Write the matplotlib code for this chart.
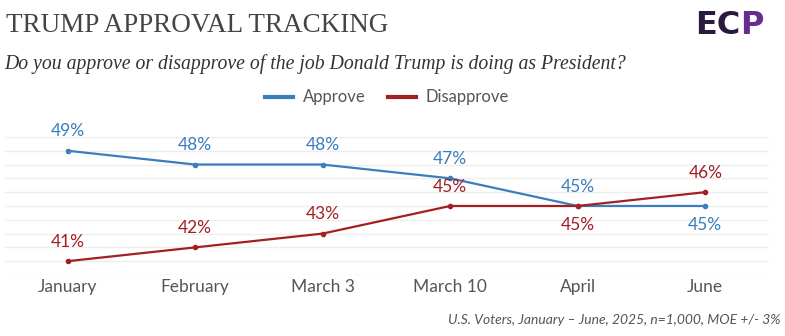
import matplotlib.pyplot as plt
from matplotlib.lines import Line2D

# dados da pesquisa
meses = ["January", "February", "March 3", "March 10", "April", "June"]
aprova = [49, 48, 48, 47, 45, 45]
desaprova = [41, 42, 43, 45, 45, 46]
# posicao dos rotulos: 1 = acima do ponto, -1 = abaixo
lado_aprova = [1, 1, 1, 1, 1, -1]
lado_desaprova = [1, 1, 1, 1, -1, 1]

azul = "#3b7dbd"
vermelho = "#a41f22"
cinza = "#555555"
fonte = "Lato"

fig = plt.figure(figsize=(7.85, 3.36), dpi=100)
ax = fig.add_axes([0.0064, 0.1815, 0.9733, 0.411])

x = list(range(len(meses)))
ax.plot(x, aprova, color=azul, lw=1.6, marker="o", ms=3, zorder=3)
ax.plot(x, desaprova, color=vermelho, lw=1.6, marker="o", ms=3, zorder=3)

for i in x:
    ax.annotate(f"{aprova[i]}%", (i, aprova[i]), xytext=(0, 14 * lado_aprova[i]),
                textcoords="offset points", ha="center", va="center",
                color=azul, fontsize=12.5, family=fonte)
    ax.annotate(f"{desaprova[i]}%", (i, desaprova[i]), xytext=(0, 14 * lado_desaprova[i]),
                textcoords="offset points", ha="center", va="center",
                color=vermelho, fontsize=12.5, family=fonte)

ax.set_xlim(-0.49, 5.5)
ax.set_ylim(40, 50)
ax.set_yticks(range(40, 51))
ax.set_yticklabels([])
ax.grid(axis="y", color="#eeeeee", lw=1)
ax.set_axisbelow(True)
ax.tick_params(length=0, pad=3)
ax.set_xticks(x)
ax.set_xticklabels(meses, color=cinza, fontsize=12.5, family=fonte)
for lado in ax.spines.values():
    lado.set_visible(False)

# legenda so com linhas, sem marcadores
alcas = [Line2D([], [], color=azul, lw=3), Line2D([], [], color=vermelho, lw=3)]
leg = ax.legend(alcas, ["Approve", "Disapprove"], loc="lower center",
                bbox_to_anchor=(0.5, 1.12), ncol=2, frameon=False,
                prop={"family": fonte, "size": 12}, handlelength=1.7,
                handletextpad=0.6, columnspacing=1.3)
for t in leg.get_texts():
    t.set_color(cinza)

# titulo e subtitulo
fig.text(0.008, 0.905, "TRUMP APPROVAL TRACKING", family="Liberation Serif",
         fontsize=19.5, color="#444444", va="baseline")
fig.text(0.006, 0.795, "Do you approve or disapprove of the job Donald Trump is doing as President?",
         family="Liberation Serif", style="italic", fontsize=14.2, color="#333333", va="baseline")

# logo
fig.text(0.886, 0.9, "EC", family="DejaVu Sans", weight="bold", fontsize=23,
         color="#2a1a40", va="baseline")
fig.text(0.943, 0.9, "P", family="DejaVu Sans", weight="bold", fontsize=23,
         color="#6a2c8c", va="baseline")

# rodape
fig.text(0.994, 0.035, "U.S. Voters, January \u2013 June, 2025, n=1,000, MOE +/- 3%",
         family=fonte, style="italic", fontsize=10, color=cinza, ha="right", va="baseline")

plt.savefig("out.png", dpi=100)
plt.close()
